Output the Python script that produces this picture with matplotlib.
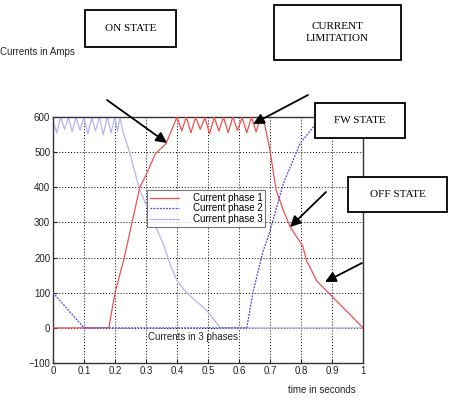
import matplotlib
matplotlib.use("Agg")
import matplotlib.pyplot as plt
from matplotlib.patches import Rectangle

# phase 1: off, ramp up, current limitation ripple, fall
t1 = [0.0, 0.18, 0.20, 0.23, 0.255, 0.28, 0.30, 0.33, 0.365, 0.40,
      0.415, 0.43, 0.445, 0.46, 0.475, 0.49, 0.505, 0.52, 0.535, 0.55,
      0.565, 0.58, 0.595, 0.61, 0.625, 0.64, 0.655, 0.67, 0.68,
      0.70, 0.711, 0.72, 0.743, 0.765, 0.797, 0.805, 0.818, 0.834, 0.85, 0.903, 1.0]
i1 = [0, 0, 100, 200, 300, 400, 435, 495, 525, 600,
      560, 600, 555, 600, 565, 598, 552, 600, 560, 600,
      555, 600, 562, 598, 555, 600, 558, 600, 590,
      505, 440, 391, 334, 287, 244, 234, 191, 163, 134, 87, 0]

# phase 2
t2 = [0.0, 0.10, 0.625, 0.645, 0.678, 0.69, 0.70, 0.743, 0.797, 0.84, 0.87, 1.0]
i2 = [100, 0, 0, 101, 220, 249, 277, 411, 525, 572, 598, 598]

# phase 3: ripple at start, then decay
t3 = [0.0, 0.012, 0.025, 0.037, 0.05, 0.062, 0.075, 0.087, 0.10, 0.112,
      0.125, 0.137, 0.15, 0.162, 0.175, 0.187, 0.20, 0.208, 0.216,
      0.227, 0.248, 0.28, 0.323, 0.36, 0.377, 0.40, 0.43, 0.496, 0.54, 1.0]
i3 = [590, 555, 600, 565, 598, 558, 600, 562, 600, 552,
      598, 560, 600, 550, 600, 555, 600, 560, 597,
      554, 497, 391, 306, 229, 182, 134, 101, 49, 0, 0]

xticks = [0, 0.1, 0.2, 0.3, 0.4, 0.5, 0.6, 0.7, 0.8, 0.9, 1]
xlabels = ["0", "0.1", "0.2", "0.3", "0.4", "0.5", "0.6", "0.7", "0.8", "0.9", "1"]
yticks = [-100, 0, 100, 200, 300, 400, 500, 600]
legend_names = ["Current phase 1", "Current phase 2", "Current phase 3"]

plt.rcParams["font.family"] = ["Liberation Sans", "DejaVu Sans"]

fig = plt.figure(figsize=(4.51, 4.0), dpi=100)
ax = fig.add_axes([0.1175, 0.0925, 0.6875, 0.615])

ax.plot(t1, i1, color="#f05050", lw=0.9, label=legend_names[0], zorder=3)
ax.plot(t2, i2, color="#4848e0", lw=0.9, ls=(0, (1.5, 1)), label=legend_names[1], zorder=3)
ax.plot(t3, i3, color="#b4b4f0", lw=0.9, label=legend_names[2], zorder=2)

ax.set_xlim(0, 1)
ax.set_ylim(-100, 600)
ax.set_xticks(xticks)
ax.set_xticklabels(xlabels)
ax.set_yticks(yticks)
ax.tick_params(labelsize=7, length=3, direction="in", pad=2, colors="#222222")
ax.grid(True, color="black", ls=(0, (1, 2)), lw=0.7)
for s in ax.spines.values():
    s.set_linewidth(1.0)
    s.set_color("#333333")

leg = ax.legend(loc="upper left", bbox_to_anchor=(0.303, 0.703), fontsize=7,
                frameon=True, fancybox=False, edgecolor="#555555",
                handlelength=3.0, borderpad=0.3, labelspacing=0.05,
                handletextpad=1.4, borderaxespad=0)
leg.get_frame().set_linewidth(0.8)

ax.text(0.45, -25, "Currents in 3 phases", fontsize=7, ha="center", va="center",
        color="#222222")

# overlay in pixel coords for labels, boxes and arrows
ov = fig.add_axes([0, 0, 1, 1], zorder=5)
ov.set_xlim(0, 451)
ov.set_ylim(400, 0)
ov.set_axis_off()

ov.text(0, 52, "Currents in Amps", fontsize=7, ha="left", va="center", color="#222222")
ov.text(322, 390, "time in seconds", fontsize=7, ha="center", va="center", color="#222222")

boxes = [
    (85, 10, 91, 37, "ON STATE"),
    (274, 5, 127, 55, "CURRENT\nLIMITATION"),
    (315, 103, 90, 35, "FW STATE"),
    (348, 177, 99, 35, "OFF STATE"),
]
for x, y, w, h, label in boxes:
    ov.add_patch(Rectangle((x, y), w, h, facecolor="white", edgecolor="black", lw=1.3))
    ov.text(x + w / 2, y + h / 2, label, fontsize=8, ha="center", va="center",
            family="Liberation Serif", linespacing=1.3)

arrows = [
    ((107, 100), (167, 143)),
    ((308, 95), (253, 124)),
    ((326, 192), (290, 227)),
    ((362, 263), (325, 282)),
]
for start, tip in arrows:
    ov.annotate("", xy=tip, xytext=start,
                arrowprops=dict(arrowstyle="-|>", color="black", lw=1.3,
                                mutation_scale=16, shrinkA=0, shrinkB=0))

fig.savefig("out.png", dpi=100)
